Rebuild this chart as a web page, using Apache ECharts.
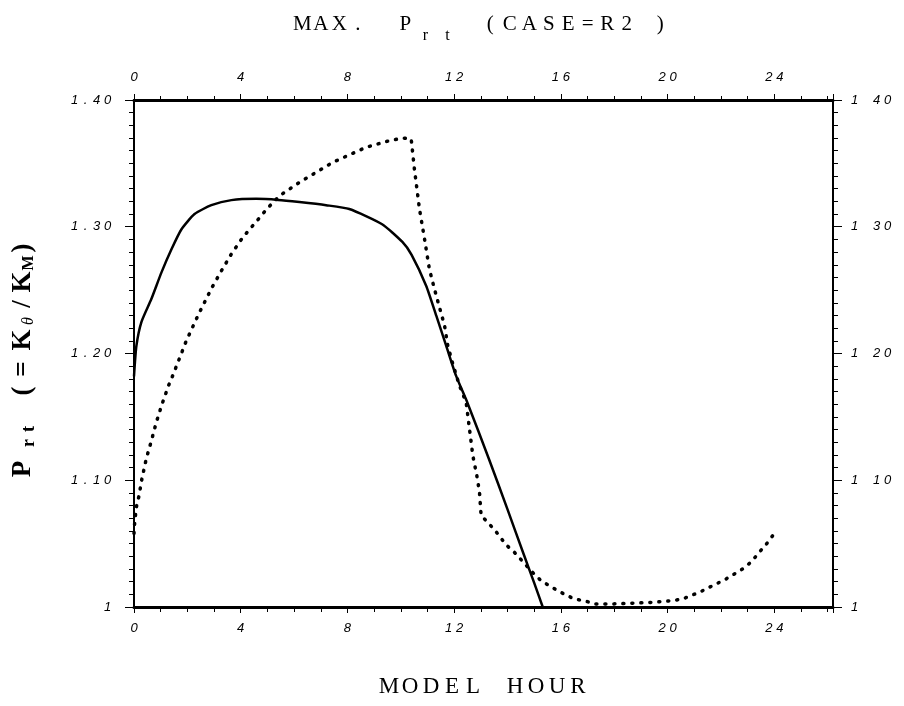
<!DOCTYPE html>
<html>
<head>
<meta charset="utf-8">
<script src="https://cdn.jsdelivr.net/npm/echarts@6/dist/echarts.min.js"></script>
<style>
  html, body { margin: 0; padding: 0; background: #fff; }
  #chart { width: 904px; height: 706px; }
</style>
</head>
<body>
<div id="chart"></div>
<script>
// solid curve
var solidHour = [0, 0.09, 0.28, 0.65, 1.03, 1.4, 1.78, 2.27, 2.9, 3.65, 4.58, 5.4, 6.2, 7.2, 8.07, 9.3, 10.06, 10.4, 10.95, 11.33, 11.7, 12.07, 12.5, 13.3, 14.0, 14.6, 15.0, 15.32];
var solidValue = [1.182, 1.206, 1.225, 1.243, 1.264, 1.282, 1.298, 1.310, 1.317, 1.321, 1.322, 1.3212, 1.3195, 1.317, 1.314, 1.302, 1.288, 1.278, 1.2535, 1.2298, 1.2062, 1.1825, 1.161, 1.117, 1.077, 1.042, 1.019, 1.0];

// dotted curve
var dottedHour = [0, 0.03, 0.1, 0.18, 0.3, 0.46, 0.65, 0.84, 1.05, 1.3, 1.46, 1.96, 2.42, 2.92, 3.27, 3.65, 4.08, 4.58, 5.02, 5.46, 6.2, 7.45, 8.7, 9.5, 10.07, 10.39, 10.51, 10.7, 10.89, 11.07, 11.26, 11.45, 11.64, 11.76, 11.95, 12.2, 12.45, 12.7, 12.85, 12.95, 13.01, 13.26, 13.57, 13.95, 14.26, 14.94, 15.26, 15.57, 15.88, 16.5, 16.88, 17.25, 17.94, 18.69, 19.44, 20.19, 20.56, 20.88, 21.25, 21.56, 21.87, 22.19, 22.5, 22.81, 23.12, 23.43, 23.75, 24.0];
var dottedValue = [1.058, 1.068, 1.08, 1.087, 1.1015, 1.117, 1.131, 1.146, 1.160, 1.175, 1.183, 1.210, 1.231, 1.252, 1.265, 1.2785, 1.2917, 1.304, 1.315, 1.3245, 1.335, 1.3508, 1.3627, 1.3675, 1.370, 1.3692, 1.3456, 1.314, 1.2903, 1.2667, 1.251, 1.2364, 1.222, 1.2062, 1.1917, 1.1746, 1.1615, 1.1194, 1.1036, 1.0905, 1.0721, 1.0668, 1.0594, 1.049, 1.0431, 1.0273, 1.0207, 1.0168, 1.0128, 1.0063, 1.005, 1.0024, 1.0024, 1.003, 1.0037, 1.005, 1.0063, 1.009, 1.0122, 1.0155, 1.0187, 1.0221, 1.026, 1.03, 1.0353, 1.043, 1.0509, 1.058];

var hourTicks = [0, 4, 8, 12, 16, 20, 24];
var prtTicks = [1, 1.1, 1.2, 1.3, 1.4];

function pairs(xs, ys) {
  var res = [];
  for (var i = 0; i < xs.length; i++) res.push([xs[i], ys[i]]);
  return res;
}

// wrap every character in its own rich token (wide letter spacing)
function spell(str, style, blankStyle) {
  return str.split('').map(function (c) {
    if (c === ' ') return '{' + (blankStyle || style) + '|\u00a0}';
    return '{' + style + '|' + c + '}';
  }).join('');
}

var digitFont = { fontFamily: 'Liberation Sans', fontStyle: 'italic', fontSize: 13, color: '#000' };
function digitRich() {
  return { d: Object.assign({ width: 11, align: 'center' }, digitFont) };
}

function leftLabel(v) {
  var s = Math.abs(v - 1) < 1e-9 ? '1' : v.toFixed(2);
  return spell(s, 'd');
}
function rightLabel(v) {
  var s = Math.abs(v - 1) < 1e-9 ? '1' : v.toFixed(2).replace('.', ' ');
  return spell(s, 'd');
}
function hourLabel(v) {
  if (hourTicks.indexOf(v) < 0) return '';
  return spell(String(v), 'd');
}

var serif = 'Liberation Serif';

var titleText =
  spell('MAX.', 'c') + '{g1|\u00a0}' + '{c|P}' + '{s|r}{s|t}' + '{g2|\u00a0}' +
  spell('(CASE=R2', 'w') + '{g3|\u00a0}' + '{w|)}';

var yName =
  '{b|P}{g|\u00a0}{bs|r}{bs|t}{g2|\u00a0}{bp|(}{be|=}{bk|K}{th|\u03b8}{sl|/}{bk2|K}{bm|M}{bc|)}';

var myChart = echarts.init(document.getElementById('chart'), null, { renderer: 'canvas' });

var option = {
  backgroundColor: '#fff',
  animation: false,
  title: {
    text: titleText,
    left: 293,
    top: 4,
    padding: 0,
    textStyle: {
      fontWeight: 'normal',
      rich: {
        c: { width: 18.5, align: 'center', fontFamily: serif, fontWeight: 'normal', fontSize: 21, color: '#000' },
        w: { width: 19.5, align: 'center', fontFamily: serif, fontWeight: 'normal', fontSize: 21, color: '#000' },
        s: { width: 22, align: 'center', fontFamily: serif, fontWeight: 'normal', fontSize: 16, color: '#000', padding: [24, 0, 0, 0] },
        g1: { width: 29, fontSize: 21 },
        g2: { width: 22, fontSize: 21 },
        g3: { width: 14, fontSize: 21 }
      }
    }
  },
  grid: { left: 134, right: 71, top: 100, bottom: 99 },
  xAxis: [
    {
      type: 'value', position: 'bottom', min: 0, max: 26.2, interval: 4,
      name: spell('MODEL HOUR', 'm'),
      nameLocation: 'middle', nameGap: 68,
      nameTextStyle: {
        rich: { m: { width: 21, align: 'center', fontFamily: serif, fontSize: 23, color: '#000' } }
      },
      axisLine: { show: true, onZero: false, lineStyle: { color: '#000', width: 3 } },
      axisTick: { show: true, length: 6, lineStyle: { color: '#000', width: 1 } },
      minorTick: { show: true, splitNumber: 4, length: 5, lineStyle: { color: '#000', width: 1 } },
      axisLabel: { margin: 15, showMaxLabel: false, formatter: hourLabel, rich: digitRich() },
      splitLine: { show: false }
    },
    {
      type: 'value', position: 'top', min: 0, max: 26.2, interval: 4,
      axisLine: { show: true, onZero: false, lineStyle: { color: '#000', width: 3 } },
      axisTick: { show: true, length: 6, lineStyle: { color: '#000', width: 1 } },
      minorTick: { show: true, splitNumber: 4, length: 4, lineStyle: { color: '#000', width: 1 } },
      axisLabel: { margin: 16, showMaxLabel: false, formatter: hourLabel, rich: digitRich() },
      splitLine: { show: false }
    }
  ],
  yAxis: [
    {
      type: 'value', position: 'left', min: 1, max: 1.4, interval: 0.1,
      name: yName,
      nameLocation: 'middle', nameRotate: 90, nameGap: 96,
      nameTextStyle: {
        padding: [0, 16, 0, 0],
        rich: {
          b: { width: 24, align: 'center', fontFamily: serif, fontWeight: 'bold', fontSize: 27, color: '#000' },
          g: { width: 7, fontSize: 27 },
          g2: { width: 24, fontSize: 27 },
          bs: { width: 14, align: 'center', fontFamily: serif, fontWeight: 'bold', fontSize: 18, color: '#000', padding: [12, 0, 0, 0] },
          bp: { width: 14, align: 'center', fontFamily: serif, fontWeight: 'bold', fontSize: 27, color: '#000' },
          be: { width: 30, align: 'center', fontFamily: serif, fontWeight: 'bold', fontSize: 27, color: '#000' },
          bk: { width: 28, align: 'center', fontFamily: serif, fontWeight: 'bold', fontSize: 27, color: '#000' },
          th: { width: 10, align: 'center', fontFamily: serif, fontStyle: 'italic', fontSize: 16, color: '#000', padding: [12, 0, 0, 0] },
          sl: { width: 24, align: 'center', fontFamily: serif, fontWeight: 'bold', fontSize: 27, color: '#000' },
          bk2: { width: 20, align: 'center', fontFamily: serif, fontWeight: 'bold', fontSize: 27, color: '#000' },
          bm: { width: 18, align: 'center', fontFamily: serif, fontWeight: 'bold', fontSize: 16, color: '#000', padding: [12, 0, 0, 0] },
          bc: { width: 12, align: 'center', fontFamily: serif, fontWeight: 'bold', fontSize: 27, color: '#000' }
        }
      },
      axisLine: { show: true, onZero: false, lineStyle: { color: '#000', width: 2 } },
      axisTick: { show: true, length: 9, lineStyle: { color: '#000', width: 1 } },
      minorTick: { show: true, splitNumber: 10, length: 5, lineStyle: { color: '#000', width: 1 } },
      axisLabel: { margin: 21, formatter: leftLabel, rich: digitRich() },
      splitLine: { show: false }
    },
    {
      type: 'value', position: 'right', min: 1, max: 1.4, interval: 0.1,
      axisLine: { show: true, onZero: false, lineStyle: { color: '#000', width: 2 } },
      axisTick: { show: true, length: 9, lineStyle: { color: '#000', width: 1 } },
      minorTick: { show: true, splitNumber: 10, length: 5, lineStyle: { color: '#000', width: 1 } },
      axisLabel: { margin: 16, formatter: rightLabel, rich: digitRich() },
      splitLine: { show: false }
    }
  ],
  series: [
    {
      name: 'solid',
      type: 'line',
      xAxisIndex: 0, yAxisIndex: 0,
      data: pairs(solidHour, solidValue),
      showSymbol: false,
      smooth: 0.2,
      lineStyle: { color: '#000', width: 2.5 }
    },
    {
      name: 'dotted',
      type: 'line',
      xAxisIndex: 0, yAxisIndex: 0,
      data: pairs(dottedHour, dottedValue),
      showSymbol: false,
      lineStyle: { color: '#000', width: 3.5, type: [1, 8], cap: 'round' }
    }
  ]
};

myChart.setOption(option);
</script>
</body>
</html>
